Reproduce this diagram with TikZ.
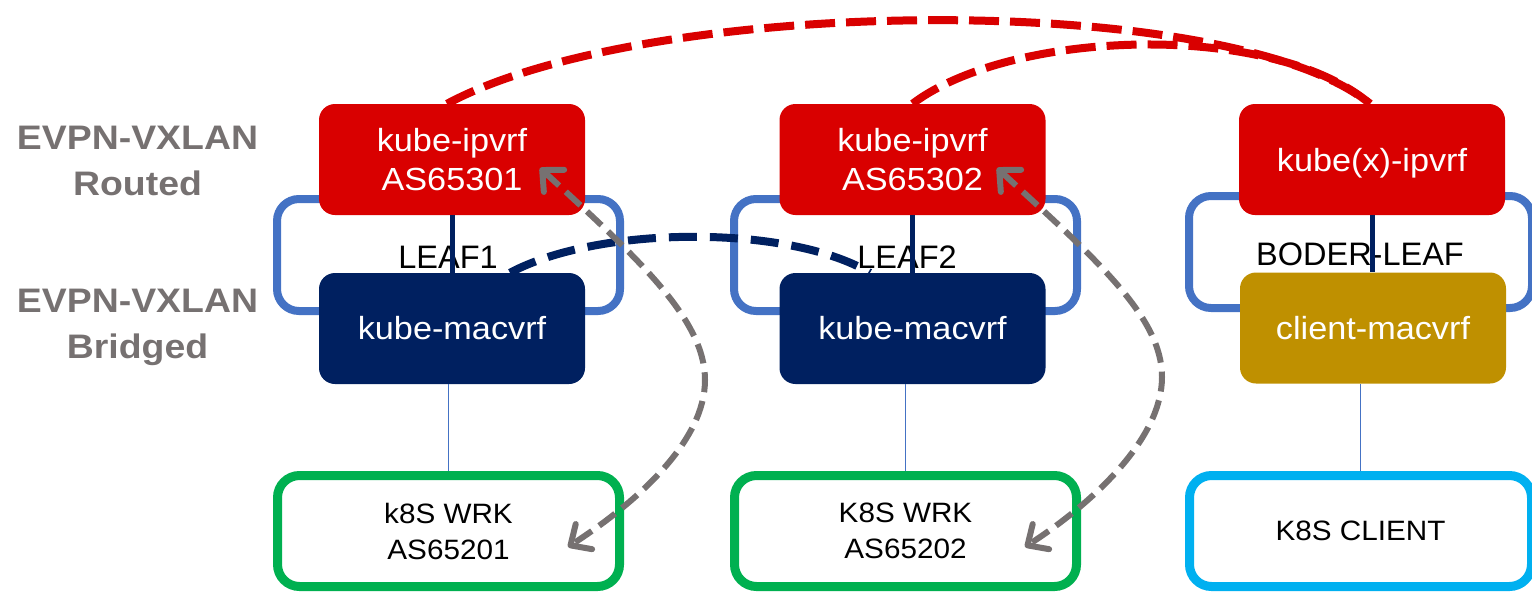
\documentclass[tikz,border=0pt]{standalone}
\usepackage{fontspec}
\setmainfont{Liberation Sans}
\newfontfamily\boxfont[FakeStretch=1.07]{Liberation Sans}
\newfontfamily\hostfont[FakeStretch=1.06]{Liberation Sans}
\newfontfamily\layerfont[FakeStretch=1.1]{Liberation Sans}
\usetikzlibrary{arrows.meta,calc}
\definecolor{vrfred}{HTML}{D90000}
\definecolor{vrfnavy}{HTML}{002060}
\definecolor{vrfgold}{HTML}{BF9000}
\definecolor{leafblue}{HTML}{4472C4}
\definecolor{wrkgreen}{HTML}{00B050}
\definecolor{clientcyan}{HTML}{00B0F0}
\definecolor{labelgray}{HTML}{767171}
\begin{document}
\begin{tikzpicture}[x=1pt,y=-1pt,
  vrf/.style={draw=none, rounded corners=16pt, minimum width=266pt, minimum height=111pt,
    inner sep=0pt, text=white, align=center, font=\boxfont\fontsize{32}{39}\selectfont},
  leafframe/.style={draw=leafblue, line width=8pt, rounded corners=22pt,
    minimum width=343pt, minimum height=112pt, inner sep=0pt},
  host/.style={fill=white, line width=9pt, rounded corners=22pt, minimum width=342pt,
    minimum height=111pt, inner sep=0pt, align=center, font=\hostfont\fontsize{28}{36}\selectfont},
  leaflabel/.style={font=\fontsize{32.5}{39}\selectfont, inner sep=0pt, anchor=base},
  layer/.style={text=labelgray, align=center, font=\layerfont\bfseries\fontsize{34}{46}\selectfont},
  stack/.style={draw=vrfnavy, line width=5pt},
  uplink/.style={draw=leafblue, line width=1.5pt},
  l3link/.style={draw=vrfred, line width=8pt, dash pattern=on 30pt off 11pt},
  l2link/.style={draw=vrfnavy, line width=8pt, dash pattern=on 28pt off 13pt},
  bgp/.style={draw=labelgray, line width=6pt, dash pattern=on 20pt off 9pt,
    {Straight Barb[length=16pt,width=30pt,round]}-{Straight Barb[length=16pt,width=30pt,round]}}
]
\useasboundingbox (0,0) rectangle (1532,592);

% leaf switches
\node[leafframe] (leaf1) at (448.5,255) {};
\node[leafframe] (leaf2) at (905.5,255) {};
\node[leafframe] (leaf3) at (1360.5,252) {};
\node[leaflabel] (leaf1lbl) at (448,268) {LEAF1};
\node[leaflabel] (leaf2lbl) at (907,268) {LEAF2};
\node[leaflabel] (leaf3lbl) at (1360,265) {BODER-LEAF};

% layer labels
\node[layer] (routed) at (137.5,161) {EVPN-VXLAN\\Routed};
\node[layer] (bridged) at (137.5,327.4) {EVPN-VXLAN\\Bridged};

% routed and bridged VRFs
\node[vrf, fill=vrfred] (ip1) at (452,159.5) {kube-ipvrf\\AS65301};
\node[vrf, fill=vrfred] (ip2) at (912.5,159.5) {kube-ipvrf\\AS65302};
\node[vrf, fill=vrfred, text height=23pt, text depth=0pt] (ip3) at (1372,159.5) {kube(x)-ipvrf};
\node[vrf, fill=vrfnavy] (mac1) at (452,328.5) {kube-macvrf};
\node[vrf, fill=vrfnavy] (mac2) at (912.5,328.5) {kube-macvrf};
\node[vrf, fill=vrfgold] (mac3) at (1373,328) {client-macvrf};

\draw[stack] (ip1.south) -- (mac1.north);
\draw[stack] (ip2.south) -- (mac2.north);
\draw[stack] (ip3.south) -- (ip3.south |- mac3.north);

% hosts
\coordinate (wrk1top) at (448.5,471);
\coordinate (wrk2top) at (905.5,471);
\coordinate (clienttop) at (1360.5,471);
\draw[uplink] (wrk1top) -- (wrk1top |- mac1.south);
\draw[uplink] (wrk2top) -- (wrk2top |- mac2.south);
\draw[uplink] (clienttop) -- (clienttop |- mac3.south);
\node[host, draw=wrkgreen] (wrk1) at (448.5,531) {k8S WRK\\AS65201};
\node[host, draw=wrkgreen] (wrk2) at (905.5,531) {K8S WRK\\AS65202};
\node[host, draw=clientcyan] (client) at (1360.5,531) {K8S CLIENT};

% EVPN type-5 routes between IP-VRFs
\draw[l3link] ([xshift=-5pt]ip1.north) .. controls +(203,-109) and +(-140,-114) .. ([xshift=-2pt]ip3.north);
\draw[l3link] (ip2.north) .. controls +(97.5,-74) and +(-100,-84) .. ([xshift=-2pt]ip3.north);

% EVPN type-2 routes between MAC-VRFs
\draw[l2link] ([xshift=58pt]mac1.north) .. controls +(90,-48) and +(-80,-48) .. ([xshift=-42.5pt]mac2.north);

% BGP sessions between workers and IP-VRFs
\draw[bgp] ($(ip1.center)+(88,8.5)$) .. controls +(100,92) and +(0,-60) .. ($(leaf1.center)+(256.5,125)$)
  .. controls +(0,60) and +(72,-47) .. ($(wrk1.center)+(119.5,16)$);
\draw[bgp] ($(ip2.center)+(84.5,8.5)$) .. controls +(100,92) and +(0,-60) .. ($(leaf2.center)+(256.5,122)$)
  .. controls +(0,60) and +(72,-47) .. ($(wrk2.center)+(119.5,16)$);
\end{tikzpicture}
\end{document}
